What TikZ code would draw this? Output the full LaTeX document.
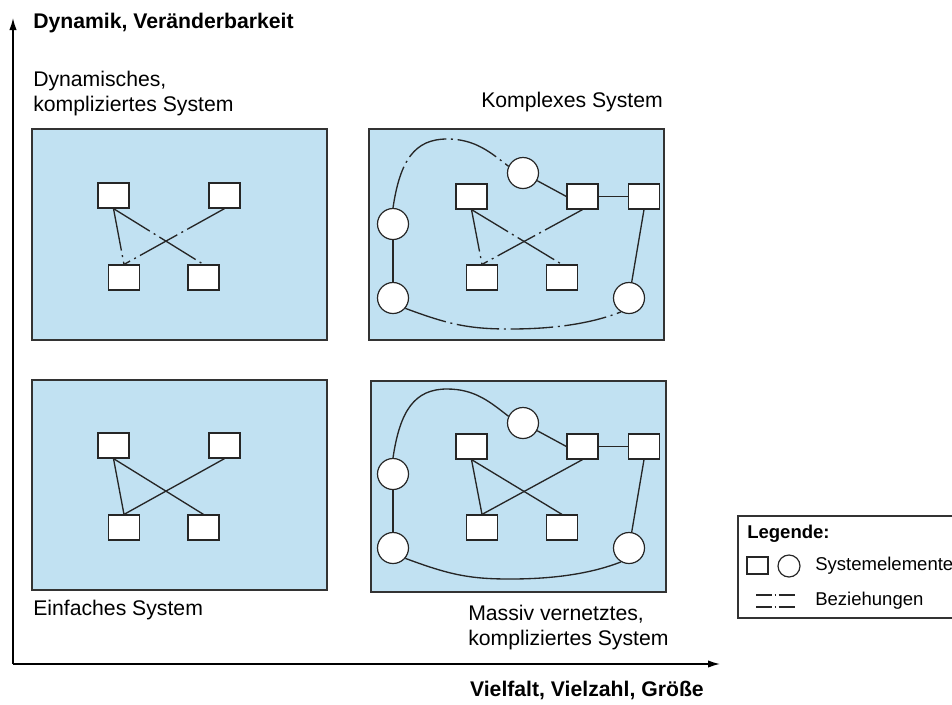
\documentclass[tikz,border=0pt]{standalone}
\usepackage{fontspec}
\setmainfont{Liberation Sans}
\usetikzlibrary{arrows.meta}
\definecolor{panelblau}{RGB}{193,225,242}
\tikzset{
  panel/.style={draw=black!80,line width=1.1pt,fill=panelblau},
  elem/.style={draw=black!85,line width=0.9pt,fill=white,inner sep=0pt},
  kasten/.style={elem,rectangle,minimum width=23.25pt,minimum height=18.75pt},
  kreis/.style={elem,circle,minimum size=23.25pt},
  bez/.style={draw=black!85,line width=1pt},
  dyn/.style={bez,dash pattern=on 32pt off 3.5pt on 1.5pt off 3.5pt},
  achse/.style={line width=1pt,-{Latex[length=9pt,width=5.5pt]}},
  txt/.style={font=\fontsize{15.9}{18.75}\selectfont,inner sep=0pt,align=left},
  titel/.style={txt,font=\fontsize{15.9}{18.75}\selectfont\bfseries},
  legtxt/.style={txt,font=\fontsize{13.9}{16}\selectfont},
}
\begin{document}
\begin{tikzpicture}[x=0.75pt,y=-0.75pt]
\useasboundingbox (0,0) rectangle (952,704);
\clip (0,0) rectangle (952,704);
%%
\newcommand{\einfach}[2]{% #1 Praefix, #2 Linienstil
  \node[kasten] (#1-a) at (113.5,195.5) {};
  \node[kasten] (#1-b) at (224.5,195.5) {};
  \node[kasten] (#1-c) at (124,277.5) {};
  \node[kasten] (#1-d) at (203.5,277.5) {};
  \draw[#2] (#1-a.south) -- (#1-c.north);
  \draw[#2] (#1-a.south) -- (#1-d.north);
  \draw[#2] (#1-b.south) -- (#1-c.north);
}
\newcommand{\komplex}[2]{%
  \node[kasten] (#1-a) at (471.5,196.5) {};
  \node[kasten] (#1-b) at (582.5,196.5) {};
  \node[kasten] (#1-c) at (644,196.5) {};
  \node[kasten] (#1-d) at (482,277.5) {};
  \node[kasten] (#1-e) at (562,277.5) {};
  \node[kreis] (#1-k1) at (523,173) {};
  \node[kreis] (#1-k2) at (393,224) {};
  \node[kreis] (#1-k3) at (393,298) {};
  \node[kreis] (#1-k4) at (629,298) {};
  \draw[bez] (#1-k1) -- (#1-b.west);
  \draw[bez] (#1-b) -- (#1-c);
  \draw[bez] (#1-c.south) -- (#1-k4);
  \draw[bez] (#1-k2) -- (#1-k3);
  \draw[#2] (#1-a.south) -- (#1-d.north);
  \draw[#2] (#1-a.south) -- (#1-e.north);
  \draw[#2] (#1-b.south) -- (#1-d.north);
  \draw[#2] (#1-k2.north) .. controls (400,160) and (415,139) .. (447,139)
    .. controls (475,139) and (490,152) .. (#1-k1.155);
  \draw[#2] (#1-k3.-40) .. controls (450,325) and (470,329) .. (510,329)
    .. controls (560,329) and (595,322) .. (#1-k4.-120);
}
%
% Achsen
\coordinate (ursprung) at (13,664);
\coordinate (yspitze) at (13,18);
\coordinate (xspitze) at (720,664);
\draw[achse] (ursprung) -- (yspitze);
\draw[achse] (ursprung) -- (xspitze);
\node[titel,anchor=base west] (ylab) at (33,28) {Dynamik, Veränderbarkeit};
\node[titel,anchor=base east] (xlab) at (704,696) {Vielfalt, Vielzahl, Größe};
%
% Felder
\draw[panel] (32,129) rectangle (327,340);
\draw[panel] (369,129) rectangle (664,340);
\draw[panel] (32,380) rectangle (327,590);
\draw[panel] (371,381) rectangle (666,592);
%
\einfach{ol}{dyn}
\komplex{or}{dyn}
\begin{scope}[shift={(0,250)}]
  \einfach{ul}{bez}
  \komplex{ur}{bez}
\end{scope}
%
\node[txt,anchor=base west] (tol) at (33,111) {Dynamisches,\\kompliziertes System};
\node[txt,anchor=base east] (tor) at (663,107) {Komplexes System};
\node[txt,anchor=base west] (tul) at (33,615) {Einfaches System};
\node[txt,anchor=base west] (tur) at (468,645) {Massiv vernetztes,\\kompliziertes System};
%
% Legende
\draw[line width=0.9pt,draw=black!80] (738,516) rectangle (965,618);
\node[legtxt,font=\fontsize{13.9}{16}\selectfont\bfseries,anchor=base west] (leg) at (747,538) {Legende:};
\node[elem,rectangle,minimum width=15.75pt,minimum height=12.75pt] (legk) at (757.5,565.5) {};
\node[elem,circle,minimum size=16.5pt] (legc) at (789,566) {};
\node[legtxt,anchor=base west] (legse) at (815,570) {Systemelemente};
\coordinate (lb1) at (756,595);
\coordinate (le1) at (795,595);
\coordinate (lb2) at (756,607);
\coordinate (le2) at (795,607);
\draw[bez,line width=0.8pt,dash pattern=on 12pt off 2pt on 1pt off 2pt] (lb1) -- (le1);
\draw[bez,line width=0.8pt,dash pattern=on 12pt off 2pt on 1pt off 2pt] (lb2) -- (le2);
\node[legtxt,anchor=base west] (legbz) at (815,605) {Beziehungen};
\end{tikzpicture}
\end{document}
